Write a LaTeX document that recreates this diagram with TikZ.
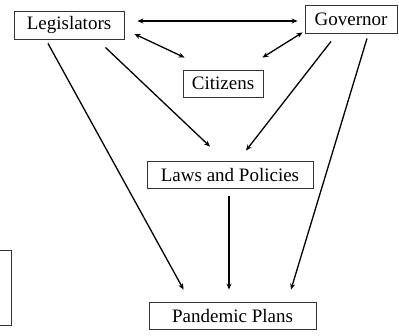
\documentclass[tikz,border=0pt]{standalone}
\usepackage{fontspec}
\setmainfont{Liberation Serif}
\usetikzlibrary{calc,arrows.meta}
\begin{document}
\begin{tikzpicture}[x=1pt,y=-1pt,
  box/.style={draw=black!80, line width=0.9pt, inner sep=0pt, font=\fontsize{19}{21}\selectfont},
  link/.style={line width=1.3pt, -{Stealth[length=6pt,width=5pt]}},
  both/.style={link, {Stealth[length=6pt,width=5pt]}-{Stealth[length=6pt,width=5pt]}}]
\useasboundingbox (0,0) rectangle (399,335);
\clip (0,0) rectangle (399,335);

\node[box, minimum width=110pt, minimum height=28pt] (leg) at (69,25) {Legislators};
\node[box, minimum width=92pt, minimum height=28pt] (gov) at (351,19) {Governor};
\node[box, minimum width=80pt, minimum height=27pt] (cit) at (223,83.5) {Citizens};
\node[box, minimum width=166pt, minimum height=27pt] (laws) at (230,174.5) {Laws and Policies};
\node[box, minimum width=167pt, minimum height=27pt] (pan) at (232.5,315.5) {Pandemic Plans};
\node[box, minimum width=80pt, minimum height=75pt, anchor=east] (side) at (12,287.5) {};

% two-way links between the three actors
\draw[both] ($(leg.east)+(13,-4)$) -- ($(gov.west)+(-7,2)$);
\draw[both] ($(leg.east)+(10,9)$) -- ($(cit.north west)+(2,-12)$);
\draw[both] ($(gov.south west)+(-2,-1)$) -- ($(cit.north east)+(-1,-12)$);

% influence on laws and plans
\draw[link] ($(leg.south east)+(-19,8)$) -- ($(laws.north)+(-20,-14)$);
\draw[link] ($(gov.south)+(-20,8)$) -- ($(laws.north)+(16,-10)$);
\draw[link] ($(leg.south)+(-21,4)$) -- ($(pan.north west)+(35,-12)$);
\draw[link] ($(gov.south)+(16,5)$) -- ($(pan.north)+(58.5,-12)$);
\draw[link] ($(laws.south)+(-1,8)$) -- ($(pan.north)+(-3.5,-12)$);
\end{tikzpicture}
\end{document}
